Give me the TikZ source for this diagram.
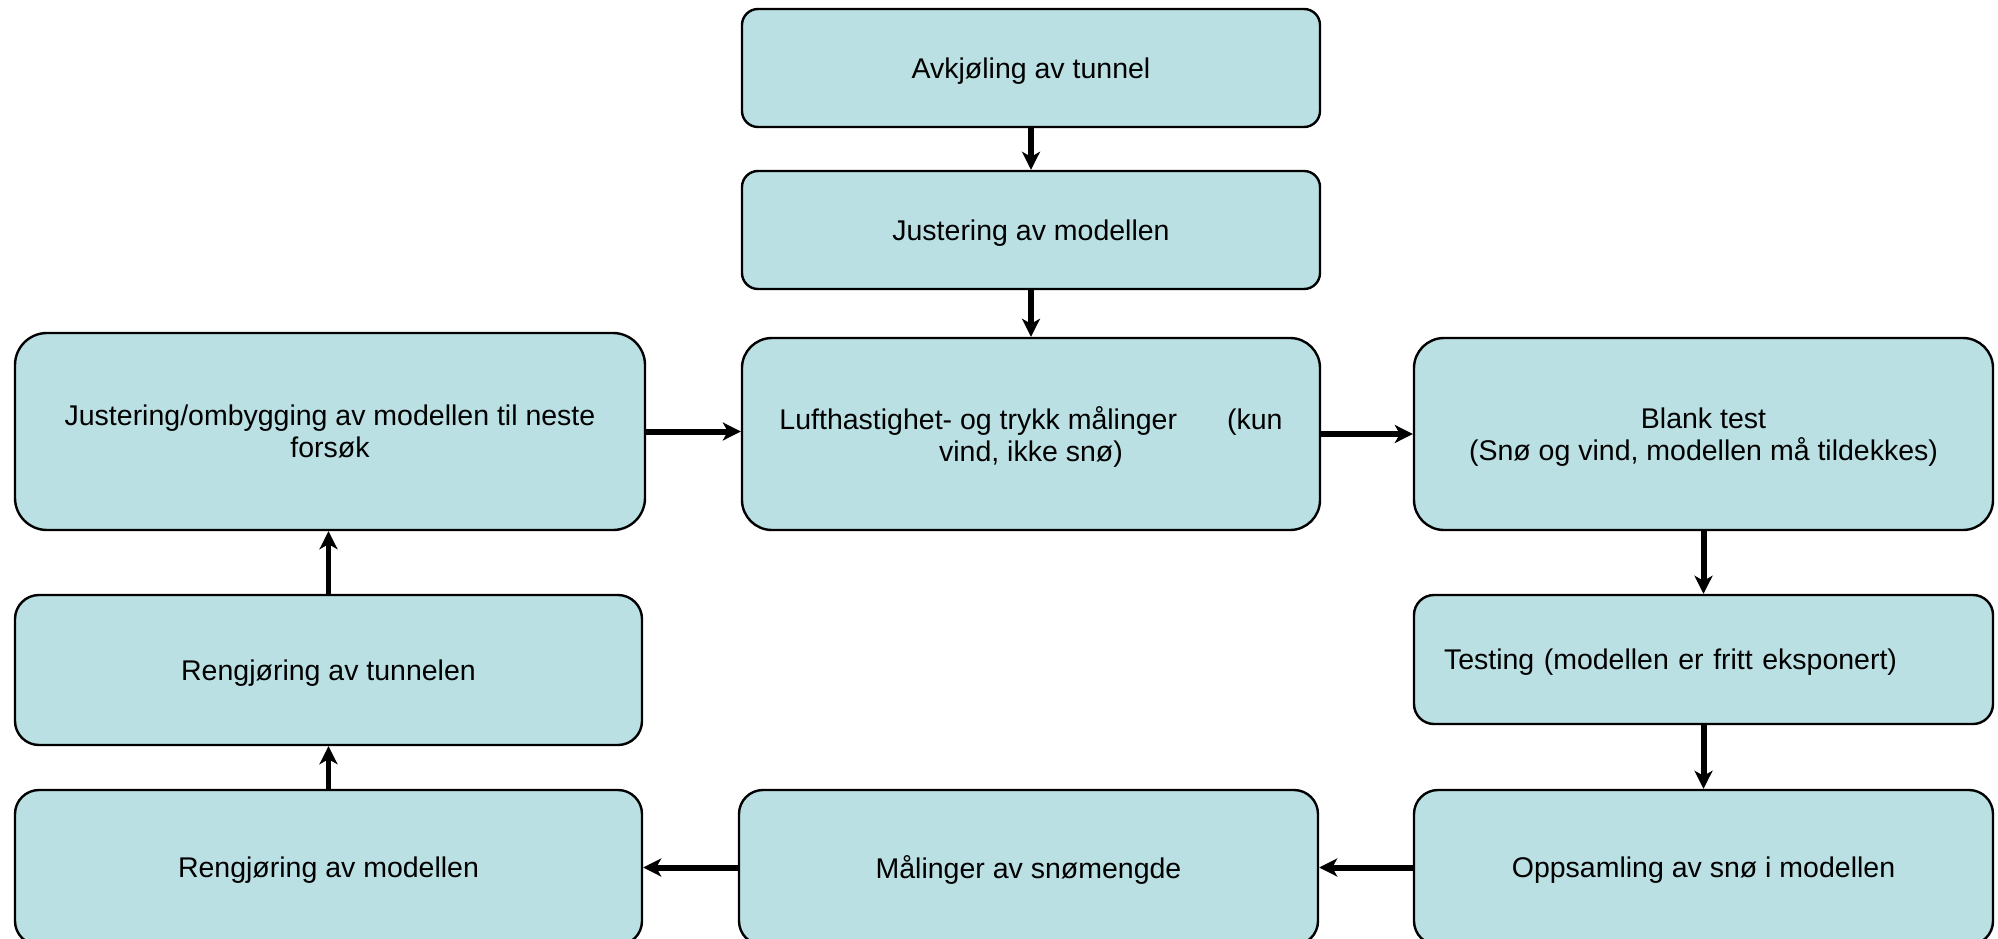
\documentclass[tikz,border=0pt]{standalone}
\usepackage{fontspec}
\setmainfont{Liberation Sans}
\usetikzlibrary{arrows.meta}
\definecolor{stepfill}{RGB}{186,224,227}
\begin{document}
\begin{tikzpicture}[x=1pt, y=-1pt]
% Test run in the snow/wind tunnel, one box per step
\providecommand{\stepLineWidth}{2.4pt}
\providecommand{\flowLineWidth}{6pt}
\useasboundingbox (0,0) rectangle (1998,939);
\begin{scope}[
  stepbox/.style={draw=black, line width=\stepLineWidth, fill=stepfill, align=center,
    inner sep=0pt, text depth=0pt, font=\fontsize{28.5}{32}\selectfont},
  flow/.style={draw=black, line width=\flowLineWidth, -{Stealth[length=18pt,width=18pt,inset=5pt]}}]
  % Middle column
  \node[stepbox, minimum width=578pt, minimum height=118pt, rounded corners=16pt] (cool) at (1031,68) {Avkjøling av tunnel};
  \node[stepbox, minimum width=578pt, minimum height=118pt, rounded corners=16pt] (adjust) at (1031,230) {Justering av modellen};
  \node[stepbox, minimum width=578pt, minimum height=192pt, rounded corners=30pt] (wind) at (1031,434)
    {Lufthastighet- og trykk målinger\hspace*{50pt}(kun\\vind, ikke snø)};
  % Right column
  \node[stepbox, minimum width=579pt, minimum height=192pt, rounded corners=30pt] (blank) at (1703.5,434)
    {Blank test\\(Snø og vind, modellen må tildekkes)};
  \node[stepbox, minimum width=579pt, minimum height=129pt, rounded corners=20pt,
    align=left, text width=519pt, inner xsep=30pt] (test) at (1703.5,659.5) {Testing (modellen er fritt eksponert)};
  \node[stepbox, minimum width=579pt, minimum height=155pt, rounded corners=24pt] (collect) at (1703.5,867.5) {Oppsamling av snø i modellen};
  % Bottom row and left column
  \node[stepbox, minimum width=579pt, minimum height=155pt, rounded corners=24pt] (measure) at (1028.5,867.5) {Målinger av snømengde};
  \node[stepbox, minimum width=627pt, minimum height=155pt, rounded corners=24pt] (cleanmodel) at (328.5,867.5) {Rengjøring av modellen};
  \node[stepbox, minimum width=627pt, minimum height=150pt, rounded corners=24pt] (cleantunnel) at (328.5,670) {Rengjøring av tunnelen};
  \node[stepbox, minimum width=630pt, minimum height=197pt, rounded corners=32pt] (rebuild) at (330,431.5)
    {Justering/ombygging av modellen til neste\\forsøk};
  % Connectors
  \draw[flow] (cool) -- (adjust);
  \draw[flow] (adjust) -- (wind);
  \draw[flow] (rebuild.east) -- (rebuild.east -| wind.west);
  \draw[flow] (wind) -- (blank);
  \draw[flow] (blank) -- (test);
  \draw[flow] (test) -- (collect);
  \draw[flow] (collect) -- (measure);
  \draw[flow] (measure) -- (cleanmodel);
  \draw[flow, line width=5pt] (cleanmodel) -- (cleantunnel);
  \draw[flow, line width=5pt] (cleantunnel.north) -- (cleantunnel.north |- rebuild.south);
\end{scope}
\end{tikzpicture}
\end{document}
